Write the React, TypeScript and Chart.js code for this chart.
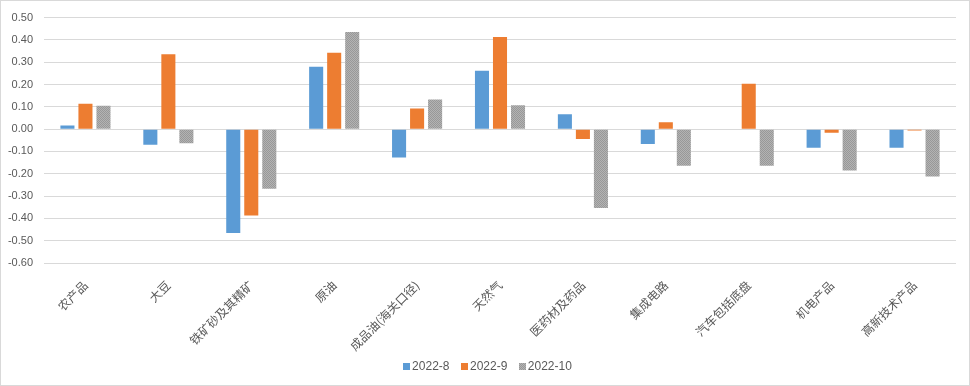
import React, { useEffect, useRef } from "react";
import { Chart, registerables } from "chart.js";

Chart.register(...registerables);

const categories = [
  "农产品",
  "大豆",
  "铁矿砂及其精矿",
  "原油",
  "成品油(海关口径)",
  "天然气",
  "医药材及药品",
  "集成电路",
  "汽车包括底盘",
  "机电产品",
  "高新技术产品",
];
const seriesLabels = ["2022-8", "2022-9", "2022-10"];
const series8 = [0.016, -0.07, -0.466, 0.28, -0.127, 0.262, 0.067, -0.067, null, -0.083, -0.083];
const series9 = [0.114, 0.336, -0.387, 0.342, 0.093, 0.413, -0.044, 0.031, 0.204, -0.016, -0.006];
const series10 = [0.105, -0.063, -0.267, 0.436, 0.133, 0.107, -0.354, -0.164, -0.164, -0.185, -0.212];
const yMin = -0.6;
const yMax = 0.5;
const yStep = 0.1;

const FONT = '"Liberation Sans", "Noto Sans CJK SC", sans-serif';
const CJK_FONT = '"Noto Sans CJK SC", "Liberation Sans", sans-serif';

export default function App() {
  const ref = useRef<HTMLCanvasElement>(null);

  useEffect(() => {
    document.body.style.margin = "0";
    const canvas = ref.current!;
    const pc = document.createElement("canvas");
    pc.width = 2;
    pc.height = 2;
    const g = pc.getContext("2d")!;
    g.fillStyle = "#b3b3b3";
    g.fillRect(0, 0, 2, 2);
    g.fillStyle = "#989898";
    g.fillRect(0, 0, 1, 1);
    g.fillRect(1, 1, 1, 1);
    const pattern = canvas.getContext("2d")!.createPattern(pc, "repeat")!;

    const border = {
      id: "outerBorder",
      afterDraw(c: any) {
        const ctx = c.ctx;
        ctx.save();
        ctx.strokeStyle = "#d9d9d9";
        ctx.lineWidth = 1;
        ctx.strokeRect(0.5, 0.5, c.width - 1, c.height - 1);
        ctx.restore();
      },
    };

    const legend = {
      id: "bottomLegend",
      afterDraw(c: any) {
        const ctx = c.ctx;
        ctx.save();
        ctx.font = `12px ${FONT}`;
        const items = c.data.datasets.map((ds: any) => ({
          label: ds.label as string,
          color: ds.backgroundColor,
          w: ctx.measureText(ds.label).width,
        }));
        const boxGap = 9;
        const itemGap = 11.5;
        const total =
          items.reduce((s: number, it: any) => s + boxGap + it.w, 0) + itemGap * (items.length - 1);
        let x = c.width / 2 + 2.5 - total / 2;
        const cy = c.height - 20;
        ctx.textAlign = "left";
        ctx.textBaseline = "middle";
        items.forEach((it: any) => {
          ctx.fillStyle = it.color;
          ctx.fillRect(Math.round(x), cy - 3, 7, 7);
          ctx.fillStyle = "#595959";
          ctx.fillText(it.label, x + boxGap, cy + 0.5);
          x += boxGap + it.w + itemGap;
        });
        ctx.restore();
      },
    };

    const chart = new Chart(canvas, {
      type: "bar",
      data: {
        labels: categories,
        datasets: [
          { label: seriesLabels[0], data: series8 as any, backgroundColor: "#5b9bd5" },
          { label: seriesLabels[1], data: series9, backgroundColor: "#ed7d31" },
          { label: seriesLabels[2], data: series10, backgroundColor: pattern as any },
        ],
      },
      options: {
        responsive: false,
        animation: false,
        layout: { padding: { top: 14, right: 14, bottom: 27, left: 0 } },
        datasets: { bar: { categoryPercentage: 0.652, barPercentage: 0.78 } },
        scales: {
          x: {
            grid: { display: false },
            border: { display: false },
            ticks: {
              minRotation: 45,
              maxRotation: 45,
              autoSkip: false,
              padding: 7,
              color: "#595959",
              font: { family: CJK_FONT, size: 12 },
            },
            afterFit(s: any) {
              s.height = 96;
            },
          },
          y: {
            min: yMin,
            max: yMax,
            ticks: {
              stepSize: yStep,
              callback: (v: any) => Number(v).toFixed(2),
              padding: 11,
              color: "#595959",
              font: { family: FONT, size: 11 },
            },
            grid: { color: "#d9d9d9", drawTicks: false },
            border: { display: false },
            afterFit(s: any) {
              s.width = 44;
            },
          },
        },
        plugins: {
          legend: { display: false },
          tooltip: { enabled: false },
        },
      },
      plugins: [border, legend],
    });
    return () => chart.destroy();
  }, []);

  return <canvas ref={ref} width={970} height={386} style={{ display: "block" }} />;
}
